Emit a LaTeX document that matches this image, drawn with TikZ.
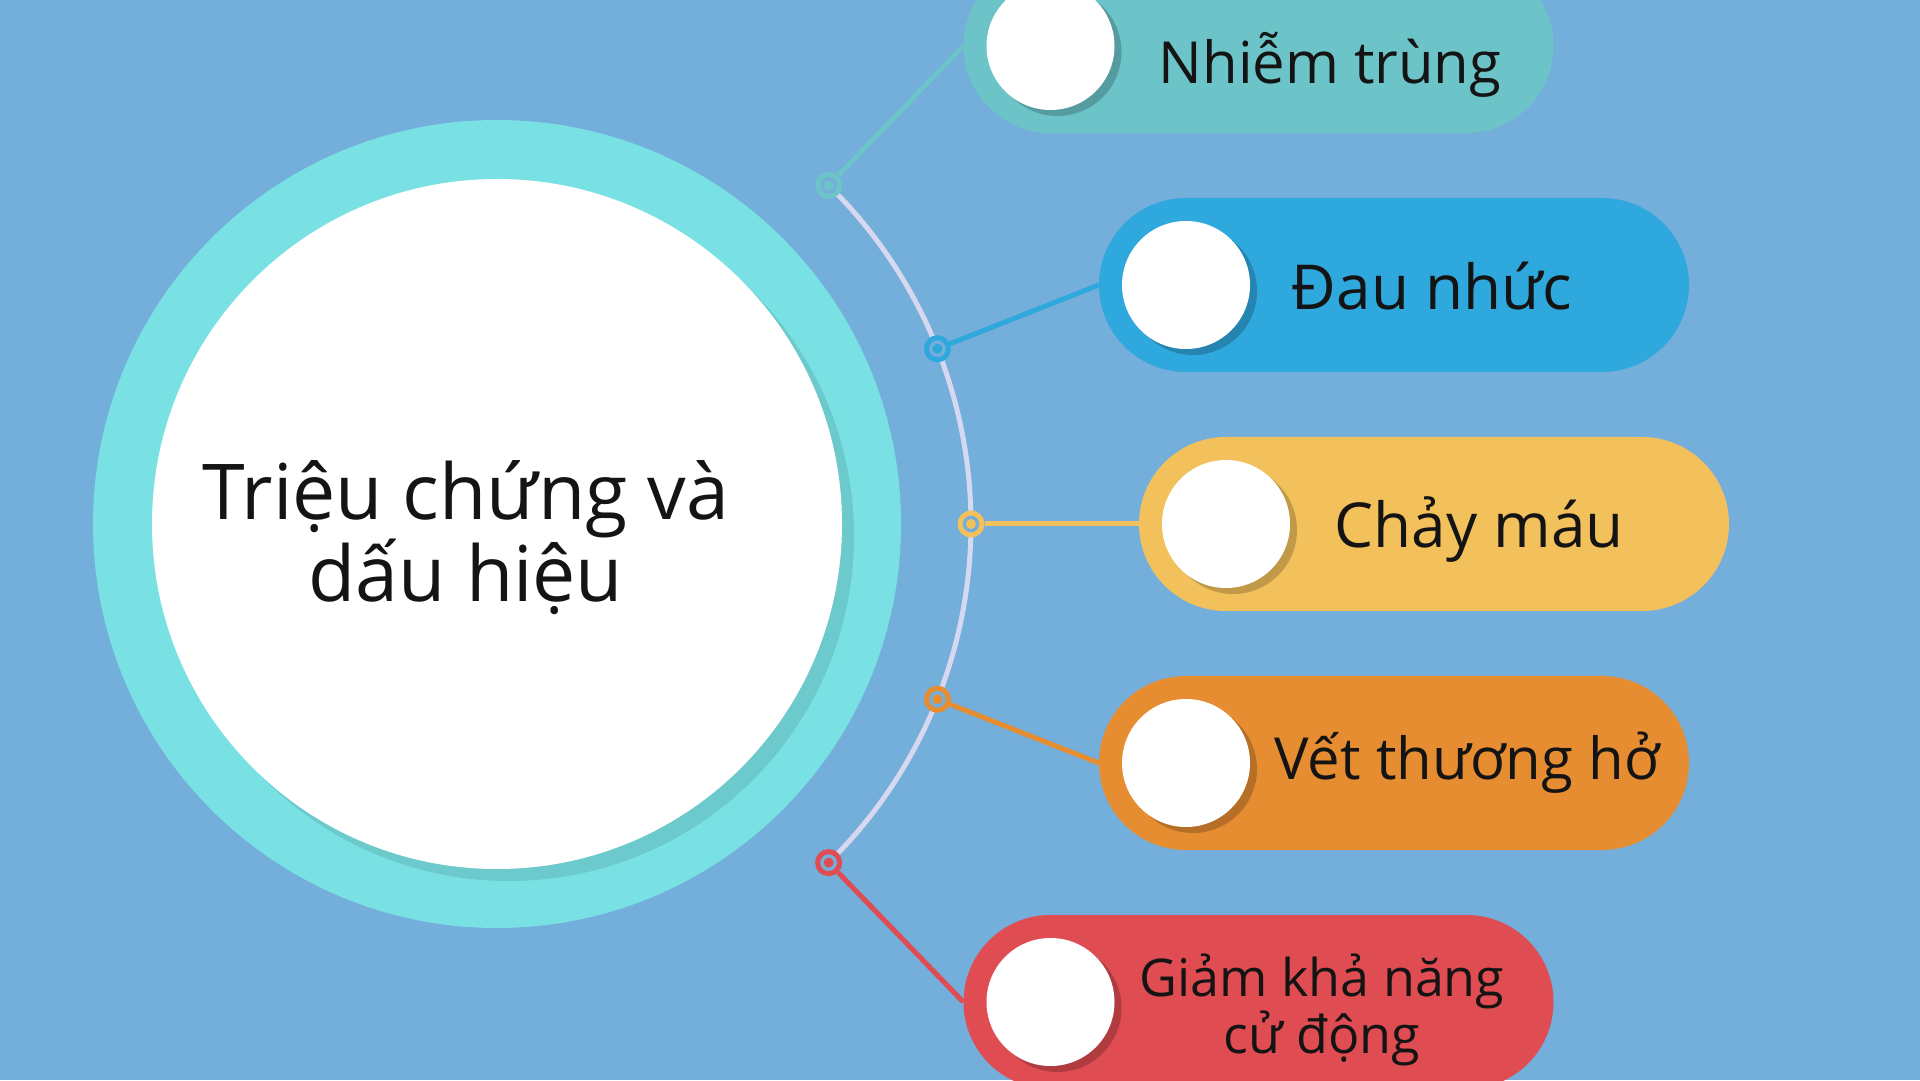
\documentclass[tikz,border=0pt]{standalone}
\usepackage{fontspec}
\setmainfont{Open Sans}
\usetikzlibrary{positioning,calc,shadows}
\definecolor{bgblue}{HTML}{74AEDA}
\definecolor{ringteal}{HTML}{79E1E4}
\definecolor{arcgray}{HTML}{D5D8EE}
\definecolor{cteal}{HTML}{6CC4C9}
\definecolor{cblue}{HTML}{2FA8DD}
\definecolor{cyellow}{HTML}{F3C15C}
\definecolor{corange}{HTML}{E68C31}
\definecolor{cred}{HTML}{DF4C51}
\tikzset{myball/.style={circle, fill=white, minimum size=128pt, inner sep=0pt,
    drop shadow={shadow xshift=7pt, shadow yshift=-6pt, fill=#1!55!black, opacity=.45}}}
\begin{document}
\begin{tikzpicture}[x=1pt,y=1pt]
\tikzstyle{mypill} = [rectangle, rounded corners=87pt, minimum width=590pt, minimum height=174pt, inner sep=0pt]
\tikzstyle{mydot} = [circle, draw, line width=5pt, fill=bgblue, minimum size=22pt, inner sep=0pt]
\tikzstyle{mylink} = [line width=5pt]
\tikzstyle{mylabel} = [anchor=base, align=center, text=black!92, inner sep=0pt]
\clip (0,0) rectangle (1920,1080);
\fill[bgblue] (0,0) rectangle (1920,1080);
% big circle
\coordinate (hub) at (497,556);
\fill[ringteal] (hub) circle (404);
\fill[ringteal!70!black, opacity=.35] ($(hub)+(12,-12)$) circle (345);
\node[circle, fill=white, minimum size=690pt, inner sep=0pt] (core) at (hub) {};
\node[mylabel, font=\fontsize{77}{82}\selectfont] (title) at (466,478) {Triệu chứng và\\dấu hiệu};
% arc and dots
\draw[arcgray, line width=5pt] ($(hub)+(45.6:474)$) arc[start angle=45.6, end angle=-45.6, radius=474];
\node[mydot, draw=cteal] (d1) at ($(hub)+(45.6:474)$) {};
\node[mydot, draw=cblue] (d2) at ($(hub)+(21.7:474)$) {};
\node[mydot, draw=cyellow] (d3) at ($(hub)+(0:474)$) {};
\node[mydot, draw=corange] (d4) at ($(hub)+(-21.7:474)$) {};
\node[mydot, draw=cred] (d5) at ($(hub)+(-45.6:474)$) {};
\fill[cteal] (d1) circle (5);
\fill[cblue] (d2) circle (5);
\fill[cyellow] (d3) circle (5);
\fill[corange] (d4) circle (5);
\fill[cred] (d5) circle (5);
% pills
\node[mypill, fill=cteal] (p1) at (1258.5,1034) {};
\node[mypill, fill=cblue] (p2) at (1394,795) {};
\node[mypill, fill=cyellow] (p3) at (1434,556) {};
\node[mypill, fill=corange] (p4) at (1394,317) {};
\node[mypill, fill=cred] (p5) at (1258.5,78) {};
\draw[mylink, cteal] (d1) -- (p1.west);
\draw[mylink, cblue] (d2) -- (p2.west);
\draw[mylink, cyellow] (d3) -- (p3.west);
\draw[mylink, corange] (d4) -- (p4.west);
\draw[mylink, cred] (d5) -- (p5.west);
\node[myball=cteal, right=23pt of p1.west] (b1) {};
\node[myball=cblue, right=23pt of p2.west] (b2) {};
\node[myball=cyellow, right=23pt of p3.west] (b3) {};
\node[myball=corange, right=23pt of p4.west] (b4) {};
\node[myball=cred, right=23pt of p5.west] (b5) {};
\node[mylabel, font=\fontsize{58}{64}\selectfont] (t1) at (1330,996) {Nhiễm trùng};
\node[mylabel, font=\fontsize{62}{68}\selectfont] (t2) at (1432,770) {Đau nhức};
\node[mylabel, font=\fontsize{62}{68}\selectfont] (t3) at (1479,532) {Chảy máu};
\node[mylabel, font=\fontsize{58}{64}\selectfont] (t4) at (1467,300) {Vết thương hở};
\node[mylabel, font=\fontsize{52}{48}\selectfont] (t5) at (1322,27) {Giảm khả năng\\cử động};
\end{tikzpicture}
\end{document}
